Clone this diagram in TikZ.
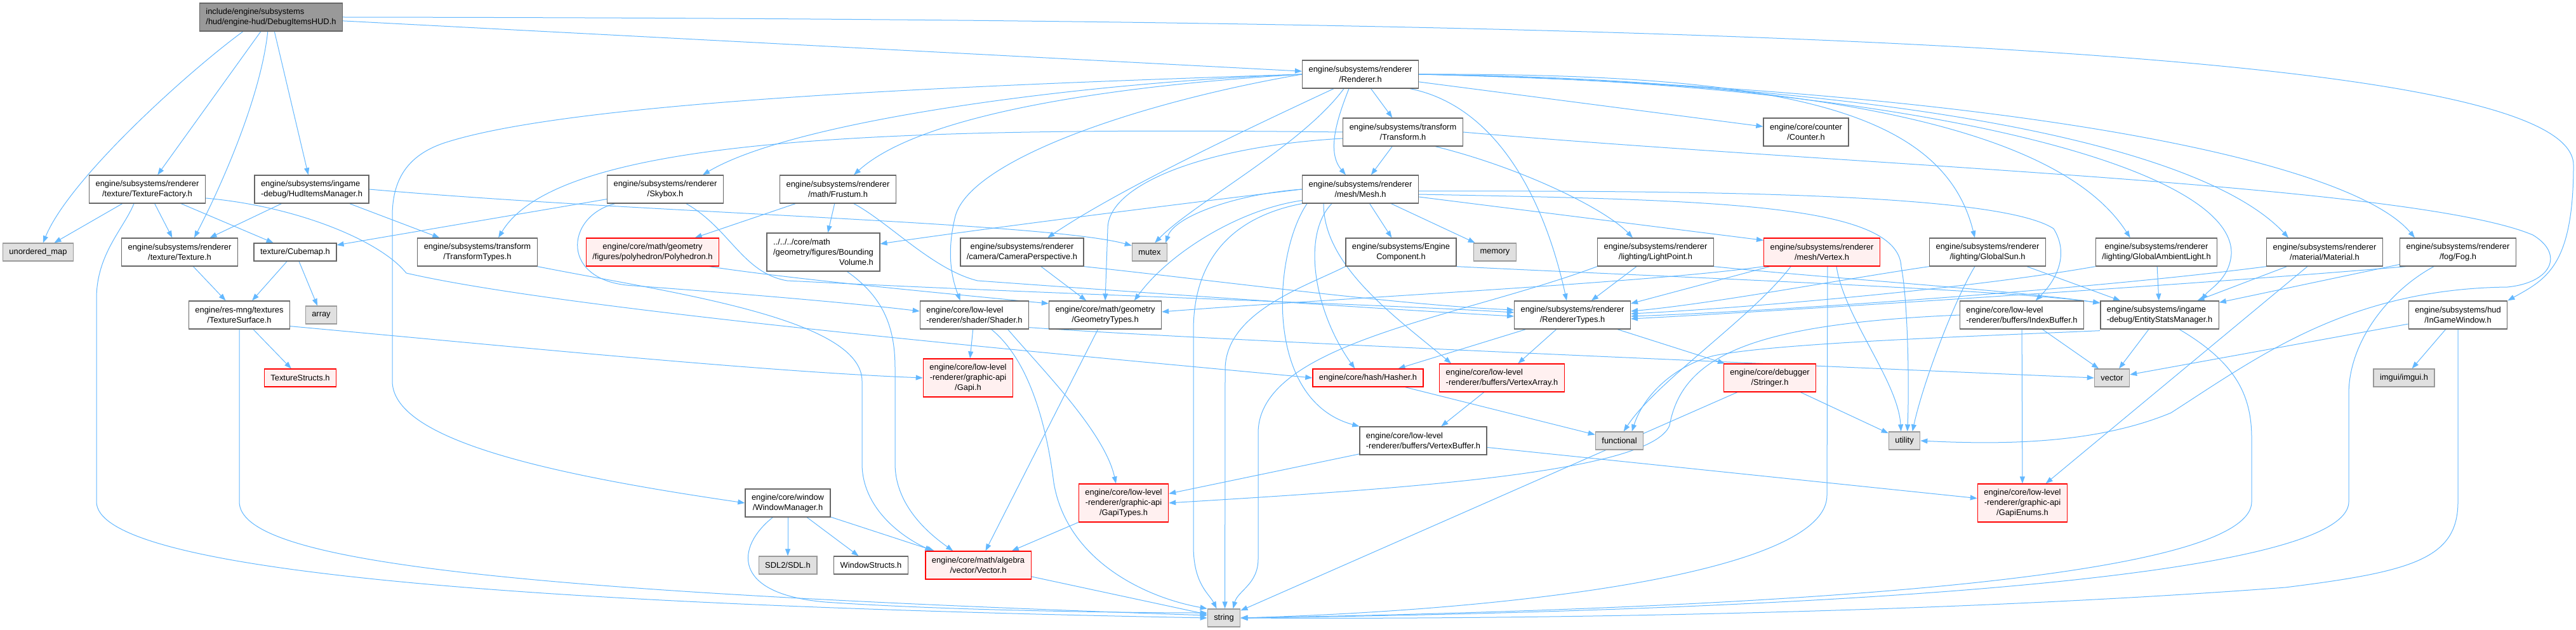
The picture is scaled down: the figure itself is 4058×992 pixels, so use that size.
\documentclass[tikz,border=0pt]{standalone}
\usepackage{fontspec}
\setmainfont{Liberation Sans}
\usepackage{xcolor}
\usetikzlibrary{arrows.meta, backgrounds}

\definecolor{edgeblue}{HTML}{63B8FF}
\definecolor{nodeline}{HTML}{666666}
\definecolor{mainfill}{HTML}{999999}
\definecolor{sysfill}{HTML}{E0E0E0}
\definecolor{sysline}{HTML}{999999}
\definecolor{trunfill}{HTML}{FFF0F0}
\definecolor{trunline}{HTML}{FF0000}

\begin{document}
\begin{tikzpicture}[
  x=1pt, y=1pt,
  every node/.style={font=\fontsize{12.9}{16}\selectfont, align=center},
  file/.style={draw=nodeline, line width=1.3pt, fill=white, inner xsep=10pt,
               inner ysep=0pt, minimum height=44pt},
  mainfile/.style={file, fill=mainfill},
  sysfile/.style={file, draw=sysline, fill=sysfill, minimum height=28pt},
  redfile/.style={file, draw=trunline, fill=trunfill},
  flat/.style={minimum height=28pt},
  tall/.style={minimum height=60pt},
  lft/.style={align=left},
  dep/.style={draw=edgeblue, line width=1pt, -{Triangle[length=11pt,width=8pt]}},
]
  \useasboundingbox (0,0) rectangle (4058,-992);

  \node[mainfile, lft] (hud) at (427,-27) {include/engine/subsystems\\/hud/engine-hud/DebugItemsHUD.h};
  \node[file] (rend)    at (2143,-117) {engine/subsystems/renderer\\/Renderer.h};
  \node[file] (transf)  at (2210,-208) {engine/subsystems/transform\\/Transform.h};
  \node[file] (counter) at (2845,-208) {engine/core/counter\\/Counter.h};
  \node[file] (tfac)    at (232,-298)  {engine/subsystems/renderer\\/texture/TextureFactory.h};
  \node[file, lft] (hudmgr) at (491,-298) {engine/subsystems/ingame\\-debug/HudItemsManager.h};
  \node[file] (sky)     at (1048,-298) {engine/subsystems/renderer\\/Skybox.h};
  \node[file] (frust)   at (1320,-298) {engine/subsystems/renderer\\/math/Frustum.h};
  \node[file] (mesh)    at (2143,-298) {engine/subsystems/renderer\\/mesh/Mesh.h};
  \node[sysfile] (umap) at (60,-397)   {unordered\_map};
  \node[file] (tex)     at (283,-397)  {engine/subsystems/renderer\\/texture/Texture.h};
  \node[file, flat] (cube) at (465,-397) {texture/Cubemap.h};
  \node[file] (ttypes)  at (752,-397)  {engine/subsystems/transform\\/TransformTypes.h};
  \node[redfile] (poly) at (1028,-397) {engine/core/math/geometry\\/figures/polyhedron/Polyhedron.h};
  \node[file, tall, lft] (bvol) at (1297,-397) {../../../core/math\\/geometry/figures/Bounding\\\hfill Volume.h\hfill};
  \node[file] (cam)     at (1610,-397) {engine/subsystems/renderer\\/camera/CameraPerspective.h};
  \node[sysfile] (mutex) at (1811,-397) {mutex};
  \node[file] (engcomp) at (2207,-397) {engine/subsystems/Engine\\Component.h};
  \node[sysfile] (memory) at (2355,-397) {memory};
  \node[file] (lightpt) at (2608,-397) {engine/subsystems/renderer\\/lighting/LightPoint.h};
  \node[redfile] (vertex) at (2870,-397) {engine/subsystems/renderer\\/mesh/Vertex.h};
  \node[file] (gsun)    at (3131,-397) {engine/subsystems/renderer\\/lighting/GlobalSun.h};
  \node[file] (gamb)    at (3397,-397) {engine/subsystems/renderer\\/lighting/GlobalAmbientLight.h};
  \node[file] (material) at (3662,-397) {engine/subsystems/renderer\\/material/Material.h};
  \node[file] (fog)     at (3872,-397) {engine/subsystems/renderer\\/fog/Fog.h};
  \node[file] (tsurf)   at (377,-496)  {engine/res-mng/textures\\/TextureSurface.h};
  \node[sysfile] (array) at (506,-496) {array};
  \node[file, lft] (shader) at (1535,-496) {engine/core/low-level\\-renderer/shader/Shader.h};
  \node[file] (geom)    at (1741,-496) {engine/core/math/geometry\\/GeometryTypes.h};
  \node[file] (rtypes)  at (2477,-496) {engine/subsystems/renderer\\/RendererTypes.h};
  \node[file, lft] (ibuf) at (3185,-496) {engine/core/low-level\\-renderer/buffers/IndexBuffer.h};
  \node[file, lft] (entity) at (3402,-496) {engine/subsystems/ingame\\-debug/EntityStatsManager.h};
  \node[file] (ingame)  at (3872,-496) {engine/subsystems/hud\\/InGameWindow.h};
  \node[redfile, flat] (tstructs) at (473,-595) {TextureStructs.h};
  \node[redfile, tall] (gapi) at (1525,-595) {engine/core/low-level\\-renderer/graphic-api\\/Gapi.h};
  \node[redfile, flat] (hasher) at (2155,-595) {engine/core/hash/Hasher.h};
  \node[redfile, lft] (varray) at (2366,-595) {engine/core/low-level\\-renderer/buffers/VertexArray.h};
  \node[redfile] (stringer) at (2788,-595) {engine/core/debugger\\/Stringer.h};
  \node[sysfile] (vector) at (3327,-595) {vector};
  \node[sysfile] (imgui) at (3787,-595) {imgui/imgui.h};
  \node[file, lft] (vbuf) at (2242,-694) {engine/core/low-level\\-renderer/buffers/VertexBuffer.h};
  \node[sysfile] (functional) at (2551,-694) {functional};
  \node[sysfile] (utility) at (3000,-694) {utility};
  \node[file] (winmgr)  at (1241,-792) {engine/core/window\\/WindowManager.h};
  \node[redfile, tall] (gapitypes) at (1770,-792) {engine/core/low-level\\-renderer/graphic-api\\/GapiTypes.h};
  \node[redfile, tall] (gapienums) at (3186,-792) {engine/core/low-level\\-renderer/graphic-api\\/GapiEnums.h};
  \node[sysfile] (sdl)  at (1241,-890) {SDL2/SDL.h};
  \node[file, flat] (winstructs) at (1372,-890) {WindowStructs.h};
  \node[redfile] (vecalg) at (1541,-890) {engine/core/math/algebra\\/vector/Vector.h};
  \node[sysfile] (string) at (1928,-973) {string};

  \begin{scope}[on background layer]
  \fill[white] (0,0) rectangle (4058,-992);
  \draw[dep] ([xshift=69pt]hud.south west) .. controls (300,-110) and (110,-280) .. ([xshift=64pt]umap.north west);
  \draw[dep] (hud) -- (tfac);
  \draw[dep] ([xshift=108pt]hud.south west) .. controls (410,-160) and (340,-310) .. ([xshift=115pt]tex.north west);
  \draw[dep] (hud) -- (hudmgr);
  \draw[dep] (hud) -- (rend);
  \draw[dep] (hud.east) .. controls (2800,-30) and (4054,-80) .. (4054,-260) .. controls (4054,-420) and (4010,-440) .. (ingame.north east);

  \draw[dep] (tfac) -- (umap);
  \draw[dep] (tfac) -- (tex);
  \draw[dep] (tfac) -- (cube);
  \draw[dep] ([xshift=71pt]tfac.south west) .. controls (195,-360) and (152,-400) .. (152,-470) -- (152,-790) .. controls (152,-890) and (700,-950) .. (string.west);
  \draw[dep] ([yshift=-14pt]tfac.east) .. controls (470,-325) and (600,-380) .. (640,-430) .. controls (900,-490) and (1700,-560) .. (hasher.west);
  \draw[dep] (hudmgr) -- (tex);
  \draw[dep] (hudmgr) -- (ttypes);
  \draw[dep] (hudmgr.east) .. controls (1000,-335) and (1650,-350) .. (mutex.160);
  \draw[dep] (tex) -- (tsurf);
  \draw[dep] (cube) -- (tsurf);
  \draw[dep] (cube) -- (array);
  \draw[dep] (tsurf) -- (tstructs);
  \draw[dep] (tsurf.south) -- (377,-790) .. controls (377,-880) and (750,-930) .. ([yshift=4pt]string.west);
  \draw[dep] ([yshift=5pt]tsurf.south east) .. controls (800,-545) and (1200,-585) .. (gapi.west);

  \draw[dep] (rend) -- (transf);
  \draw[dep] ([xshift=74pt]rend.south west) .. controls (2105,-190) and (2090,-240) .. ([xshift=69pt]mesh.north west);
  \draw[dep] (rend) -- (counter);
  \draw[dep] (rend.west) .. controls (1700,-130) and (1250,-190) .. ([xshift=-33pt]sky.north east);
  \draw[dep] (rend.west) .. controls (1750,-135) and (1450,-180) .. ([xshift=-67pt]frust.north east);
  \draw[dep] (rend.west) .. controls (1500,-135) and (900,-160) .. (700,-225) .. controls (640,-245) and (618,-285) .. (618,-340) -- (618,-600) .. controls (618,-690) and (850,-745) .. (winmgr.west);
  \draw[dep] (rend.west) .. controls (1800,-160) and (1530,-250) .. (1505,-340) .. controls (1490,-400) and (1500,-440) .. ([xshift=64pt]shader.north west);
  \draw[dep] ([xshift=50pt]rend.south west) .. controls (1950,-210) and (1760,-300) .. ([xshift=138pt]cam.north west);
  \draw[dep] ([xshift=66pt]rend.south west) .. controls (2050,-230) and (1880,-320) .. ([xshift=-20pt]mutex.north east);
  \draw[dep] ([xshift=170pt]rend.south west) .. controls (2350,-165) and (2430,-300) .. ([xshift=83pt]rtypes.north west);
  \draw[dep] (rend.east) .. controls (2800,-115) and (3060,-170) .. ([xshift=72pt]gsun.north west);
  \draw[dep] (rend.east) .. controls (2900,-125) and (3250,-210) .. ([xshift=55pt]gamb.north west);
  \draw[dep] (rend.east) .. controls (3000,-130) and (3520,-260) .. (3515,-400) .. controls (3512,-440) and (3480,-455) .. ([xshift=160pt]entity.north west);
  \draw[dep] (rend.east) .. controls (3050,-135) and (3480,-240) .. ([xshift=35pt]material.north west);
  \draw[dep] (rend.east) .. controls (3150,-140) and (3700,-250) .. ([xshift=24pt]fog.north west);
  \draw[dep] (transf) -- (mesh);
  \draw[dep] (transf.west) .. controls (1400,-200) and (880,-215) .. ([xshift=128pt]ttypes.north west);
  \draw[dep] ([yshift=-10pt]transf.west) .. controls (1900,-230) and (1745,-290) .. (1745,-360) -- (geom.north);
  \draw[dep] ([xshift=146pt]transf.south west) .. controls (2400,-265) and (2530,-330) .. ([xshift=56pt]lightpt.north west);
  \draw[dep] (transf.east) .. controls (2900,-260) and (3800,-290) .. (3990,-370) .. controls (4040,-400) and (4020,-445) .. (3950,-452) .. controls (3700,-455) and (3560,-560) .. (3420,-650) .. controls (3300,-700) and (3150,-700) .. (utility.east);

  \draw[dep] (sky) -- (cube);
  \draw[dep] ([xshift=13pt]sky.south west) .. controls (890,-340) and (880,-445) .. (1000,-450) .. controls (1200,-465) and (1350,-478) .. ([yshift=6pt]shader.west);
  \draw[dep] ([xshift=125pt]sky.south west) .. controls (1150,-360) and (1170,-430) .. (1240,-442) .. controls (1700,-465) and (2150,-478) .. ([yshift=4pt]rtypes.west);
  \draw[dep] (frust) -- (poly);
  \draw[dep] (frust) -- (bvol);
  \draw[dep] ([xshift=117pt]frust.south west) .. controls (1400,-350) and (1470,-425) .. (1540,-442) .. controls (1900,-468) and (2200,-488) .. ([yshift=-2pt]rtypes.west);
  \draw[dep] ([xshift=-16pt]poly.south east) .. controls (1250,-440) and (1500,-463) .. ([yshift=18pt]geom.west);
  \draw[dep] (ttypes.south east) .. controls (1050,-460) and (1358,-500) .. (1358,-600) -- (1358,-730) .. controls (1358,-800) and (1420,-845) .. ([xshift=11pt]vecalg.north west);
  \draw[dep] ([xshift=127pt]bvol.south west) .. controls (1395,-470) and (1410,-520) .. (1410,-580) -- (1410,-730) .. controls (1410,-800) and (1470,-845) .. ([xshift=44pt]vecalg.north west);
  \draw[dep] (cam) -- (geom);
  \draw[dep] (cam.south east) .. controls (1900,-440) and (2200,-480) .. ([yshift=8pt]rtypes.west);

  \draw[dep] (shader) -- (gapi);
  \draw[dep] ([xshift=139pt]shader.south west) .. controls (1640,-580) and (1740,-680) .. ([xshift=-12pt]gapitypes.north);
  \draw[dep] ([xshift=113pt]shader.south west) .. controls (1625,-570) and (1650,-680) .. (1660,-760) .. controls (1680,-880) and (1800,-940) .. (string.north west);
  \draw[dep] ([yshift=3pt]shader.south east) .. controls (1900,-535) and (2600,-565) .. (vector.west);
  \draw[dep] (geom) -- (vecalg);

  \draw[dep] (mesh) -- (engcomp);
  \draw[dep] (mesh) -- (memory);
  \draw[dep] ([xshift=47pt]mesh.south west) .. controls (2050,-370) and (2070,-490) .. ([xshift=67pt]hasher.north west);
  \draw[dep] ([xshift=34pt]mesh.south west) .. controls (2085,-420) and (2200,-500) .. ([xshift=19pt]varray.north west);
  \draw[dep] ([xshift=8pt]mesh.south west) .. controls (2005,-400) and (1990,-630) .. (vbuf.north west);
  \draw[dep] (mesh.south west) .. controls (1950,-340) and (1880,-400) .. (1880,-520) -- (1880,-860) .. controls (1880,-920) and (1905,-935) .. ([xshift=15pt]string.north west);
  \draw[dep] ([yshift=5pt]mesh.south west) .. controls (1950,-330) and (1840,-400) .. ([xshift=135pt]geom.north west);
  \draw[dep] (mesh.west) .. controls (1950,-305) and (1850,-340) .. ([xshift=-3pt]mutex.north east);
  \draw[dep] (mesh.west) .. controls (1850,-322) and (1550,-360) .. ([yshift=13pt]bvol.east);
  \draw[dep] ([yshift=-12pt]mesh.east) -- ([yshift=-4pt]vertex.north west);
  \draw[dep] ([yshift=-3pt]mesh.east) .. controls (2700,-300) and (3150,-305) .. (3235,-360) .. controls (3260,-400) and (3240,-440) .. ([xshift=120pt]ibuf.north west);
  \draw[dep] ([yshift=-8pt]mesh.east) .. controls (2700,-315) and (2990,-320) .. (2995,-420) .. controls (3005,-470) and (3008,-600) .. ([xshift=30pt]utility.north west);
  \draw[dep] (engcomp.south west) .. controls (2060,-450) and (1932,-490) .. (1930,-580) -- ([xshift=28pt]string.north west);
  \draw[dep] (engcomp.south east) .. controls (2600,-435) and (3150,-455) .. ([yshift=19pt]entity.west);
  \draw[dep] (lightpt) -- (rtypes);
  \draw[dep] (lightpt.south east) .. controls (2900,-440) and (3150,-455) .. ([yshift=19pt]entity.west);
  \draw[dep] (lightpt.south west) .. controls (2300,-500) and (1985,-540) .. (1982,-680) -- (1982,-880) .. controls (1982,-920) and (1950,-930) .. ([xshift=-12pt]string.north east);
  \draw[dep] ([xshift=10pt]vertex.south west) -- ([yshift=18pt]rtypes.east);
  \draw[dep] (vertex.south west) .. controls (2600,-445) and (2100,-470) .. ([yshift=5pt]geom.east);
  \draw[dep] ([xshift=43pt]vertex.south west) .. controls (2760,-500) and (2610,-600) .. ([xshift=45pt]functional.north west);
  \draw[dep] ([xshift=101pt]vertex.south west) -- (2878,-780) .. controls (2878,-900) and (2400,-960) .. (string.east);
  \draw[dep] ([xshift=115pt]vertex.south west) .. controls (2905,-500) and (2990,-600) .. ([xshift=20pt]utility.north west);

  \draw[dep] (gsun.south west) .. controls (2900,-440) and (2700,-478) .. ([yshift=6pt]rtypes.east);
  \draw[dep] (gsun) -- (entity);
  \draw[dep] ([xshift=72pt]gsun.south west) .. controls (3080,-470) and (3030,-600) .. ([xshift=38pt]utility.north west);
  \draw[dep] (gamb.south west) .. controls (3100,-455) and (2750,-485) .. ([yshift=2pt]rtypes.east);
  \draw[dep] (gamb) -- (entity);
  \draw[dep] (material.south west) .. controls (3300,-455) and (2800,-490) .. ([yshift=-2pt]rtypes.east);
  \draw[dep] (material) -- (entity);
  \draw[dep] (material) -- (gapienums);
  \draw[dep] ([xshift=10pt]fog.south west) .. controls (3500,-445) and (2800,-490) .. ([yshift=-6pt]rtypes.east);
  \draw[dep] (fog) -- (entity);
  \draw[dep] ([xshift=54pt]fog.south west) .. controls (3760,-460) and (3700,-540) .. (3700,-620) -- (3700,-790) .. controls (3700,-930) and (2600,-965) .. (string.east);

  \draw[dep] (rtypes) -- (hasher);
  \draw[dep] (rtypes) -- (varray);
  \draw[dep] (rtypes) -- (stringer);
  \draw[dep] (varray) -- (vbuf);
  \draw[dep] (vbuf) -- (gapitypes);
  \draw[dep] (vbuf) -- (gapienums);
  \draw[dep] (hasher) -- (functional);
  \draw[dep] (stringer) -- (string);
  \draw[dep] (stringer) -- (utility);
  \draw[dep] (ibuf) -- (vector);
  \draw[dep] (ibuf) -- (gapienums);
  \draw[dep] (ibuf.west) .. controls (2760,-510) and (2650,-560) .. (2630,-670) .. controls (2600,-745) and (2200,-770) .. (gapitypes.east);
  \draw[dep] (entity) -- (vector);
  \draw[dep] ([yshift=-2pt]entity.south west) .. controls (3100,-530) and (2800,-540) .. (2700,-560) .. controls (2640,-575) and (2590,-620) .. ([xshift=58pt]functional.north west);
  \draw[dep] ([xshift=125pt]entity.south west) .. controls (3520,-570) and (3547,-620) .. (3547,-690) -- (3547,-790) .. controls (3547,-920) and (2700,-960) .. (string.east);
  \draw[dep] (ingame) -- (imgui);
  \draw[dep] (ingame) -- (vector);
  \draw[dep] (ingame.south) -- (3872,-790) .. controls (3872,-880) and (3800,-900) .. (3600,-925) .. controls (3000,-970) and (2300,-975) .. (string.east);

  \draw[dep] (winmgr) -- (sdl);
  \draw[dep] (winmgr) -- (winstructs);
  \draw[dep] (winmgr) -- (vecalg);
  \draw[dep] ([xshift=44pt]winmgr.south west) .. controls (1160,-860) and (1150,-935) .. (1300,-948) .. controls (1500,-962) and (1800,-965) .. ([yshift=8pt]string.west);
  \draw[dep] (gapitypes) -- (vecalg);
  \draw[dep] (vecalg) -- (string);
  \end{scope}
\end{tikzpicture}
\end{document}
